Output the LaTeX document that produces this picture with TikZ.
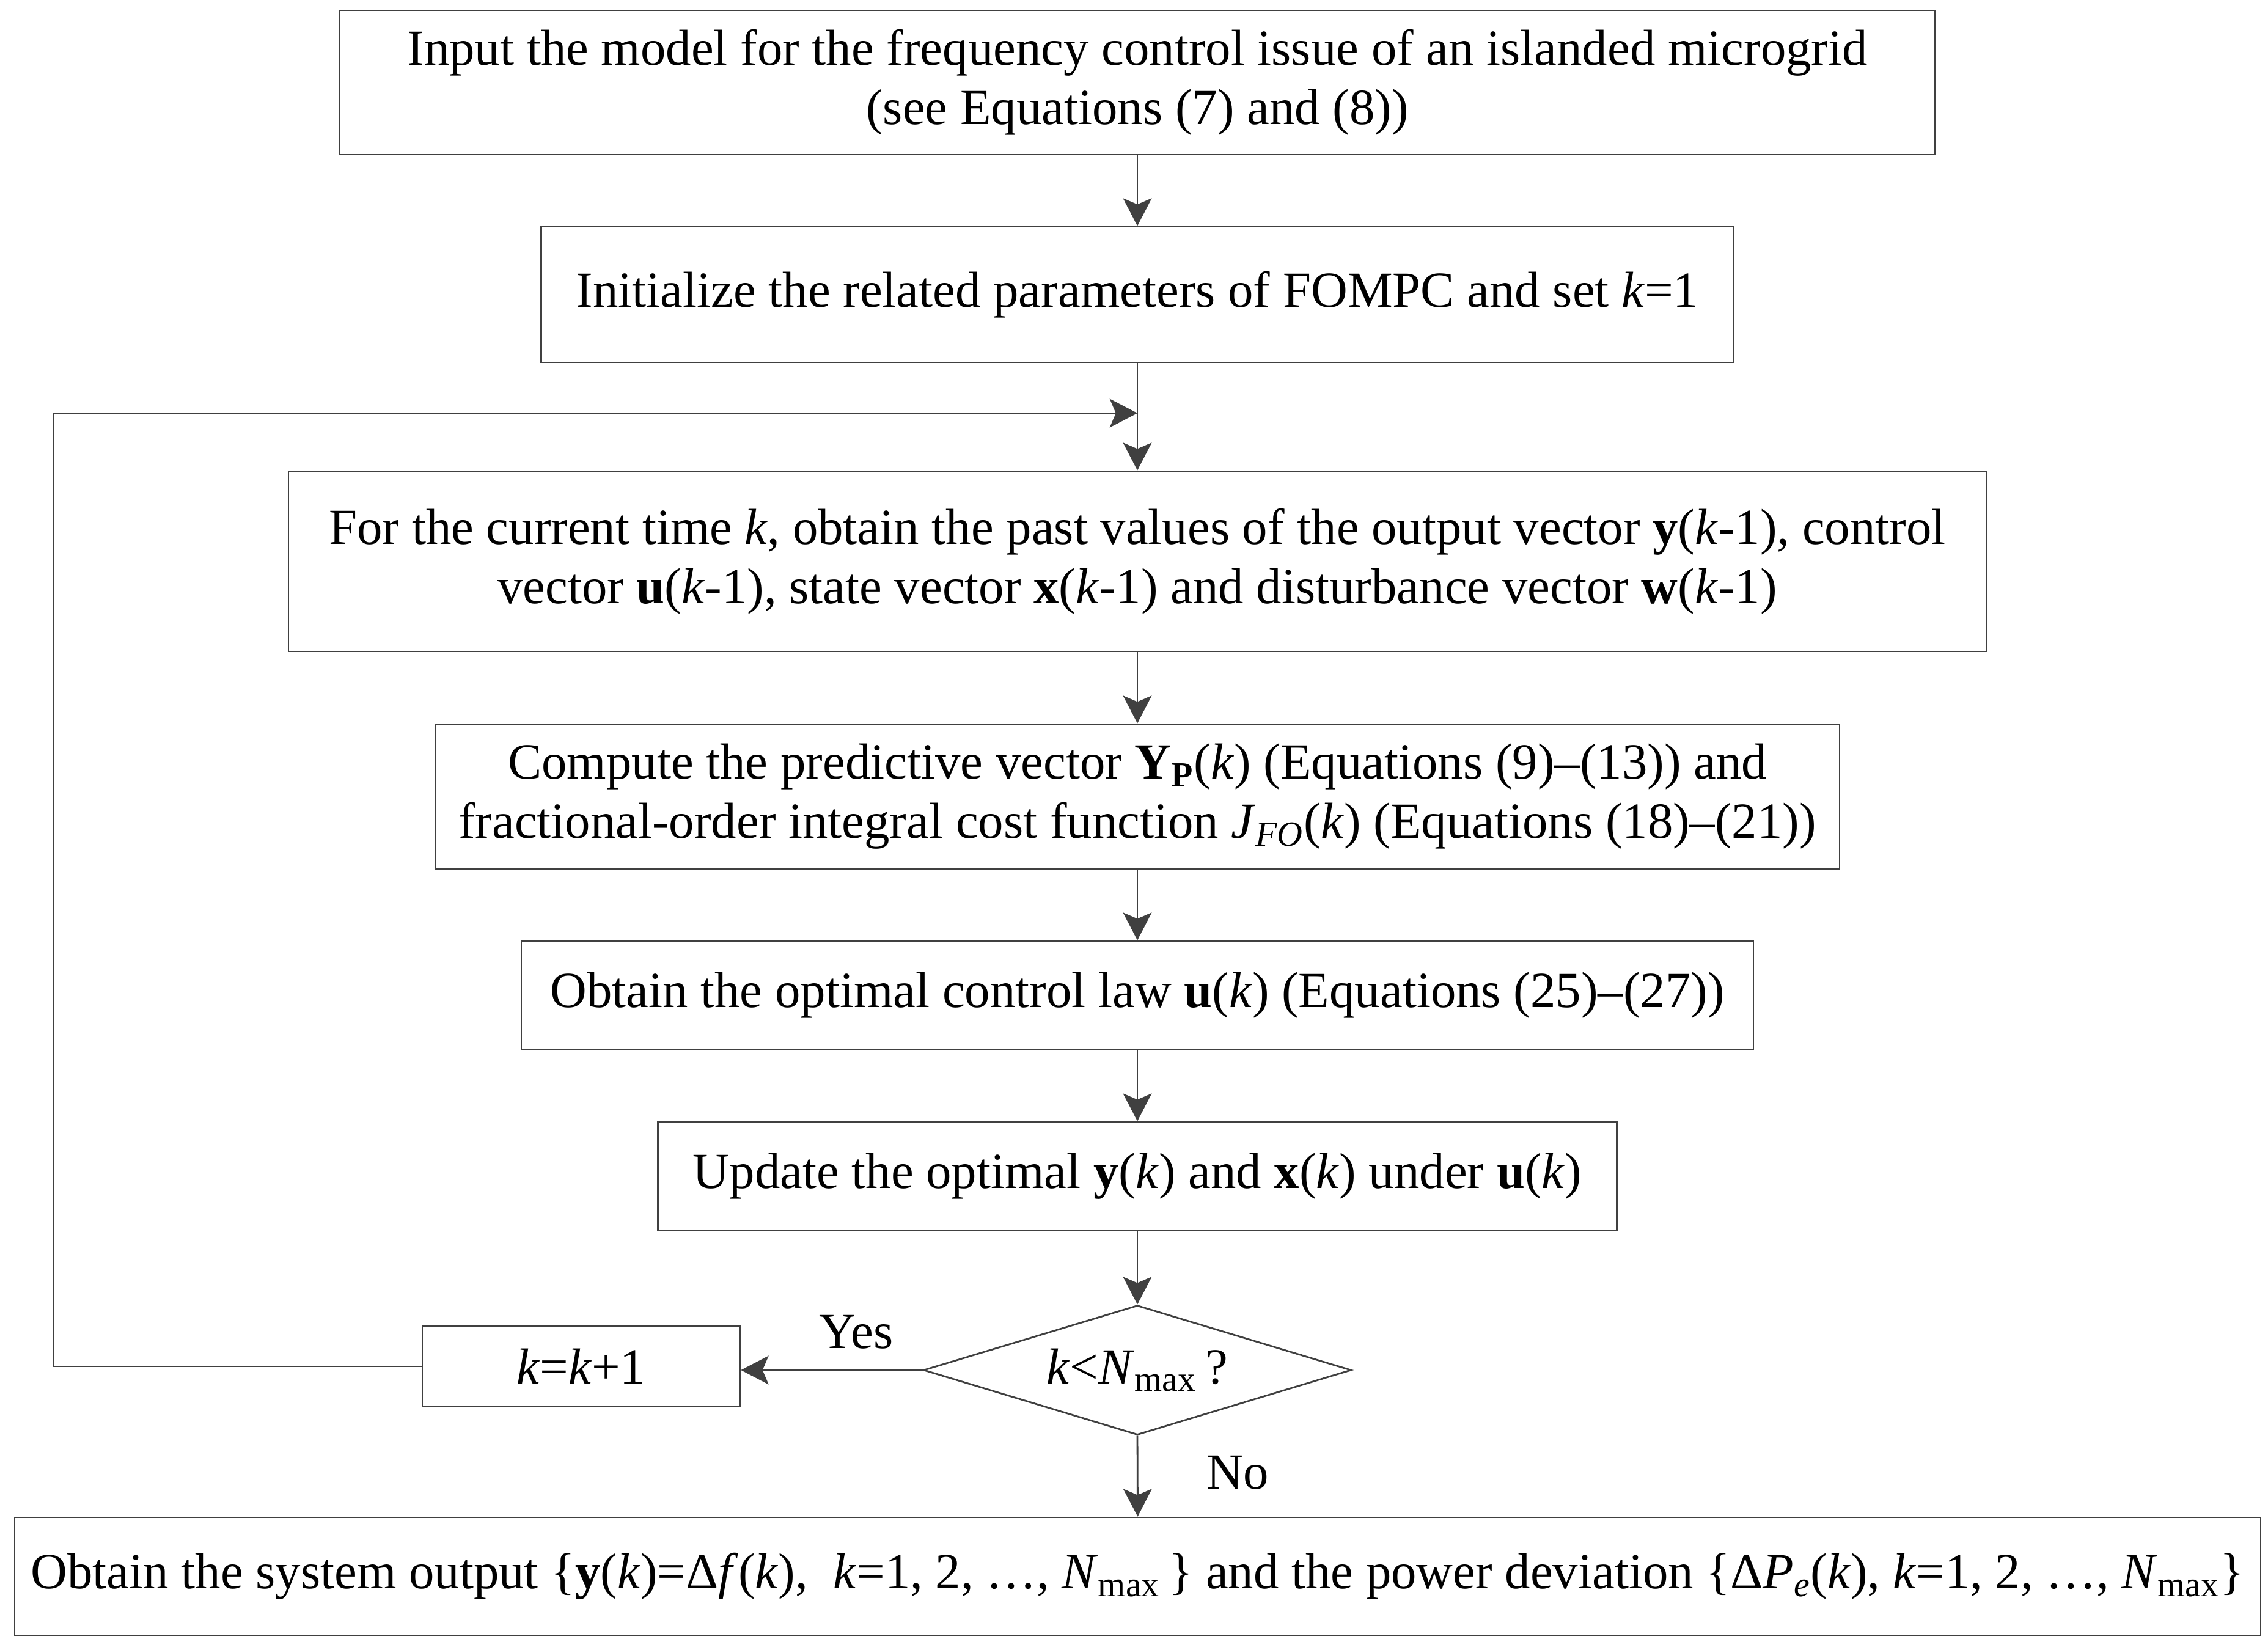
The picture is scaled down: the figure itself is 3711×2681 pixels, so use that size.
\documentclass[tikz,border=0pt]{standalone}
\usepackage{fontspec}
\setmainfont{Liberation Serif}
\usetikzlibrary{arrows.meta,shapes.geometric}
\definecolor{lc}{HTML}{404040}
\tikzset{
  box/.style={draw=lc, line width=0.7pt, rectangle, inner sep=0pt, align=center, text=black},
  dia/.style={draw=lc, line width=0.7pt, diamond, aspect=3.3, inner sep=0pt, align=center, text=black},
  conn/.style={draw=lc, line width=0.7pt, -{Stealth[length=11.3pt,width=11.7pt,inset=2.5pt]}},
  plain/.style={draw=lc, line width=0.7pt},
  lbl/.style={inner sep=0pt, text=black}
}
\begin{document}
\begin{tikzpicture}[x=0.25pt,y=-0.25pt,font=\fontsize{20.7}{24.3}\selectfont]
\useasboundingbox (0,0) rectangle (3711,2681);
\node[box, minimum width=652.75pt, minimum height=59pt] (b1) at (1861,135)
  {Input the model for the frequency control issue of an islanded microgrid\\(see Equations (7) and (8))};
\node[box, minimum width=487.75pt, minimum height=55.5pt] (b2) at (1861,482)
  {Initialize the related parameters of FOMPC and set \textit{k}=1};
\node[box, minimum width=694.5pt, minimum height=73.75pt] (b3) at (1861,918.5)
  {For the current time \textit{k}, obtain the past values of the output vector \textbf{y}(\textit{k}-1), control\\vector \textbf{u}(\textit{k}-1), state vector \textbf{x}(\textit{k}-1) and disturbance vector \textbf{w}(\textit{k}-1)};
\node[box, minimum width=574.5pt, minimum height=59.25pt] (b4) at (1861,1303.5)
  {Compute the predictive vector \textbf{Y}\textsubscript{\textbf{P}}(\textit{k}) (Equations (9)–(13)) and\\fractional-order integral cost function \textit{J}\textsubscript{\textit{FO}}(\textit{k}) (Equations (18)–(21))};
\node[box, minimum width=504pt, minimum height=44.5pt] (b5) at (1861,1629)
  {Obtain the optimal control law \textbf{u}(\textit{k}) (Equations (25)–(27))};
\node[box, minimum width=392.25pt, minimum height=44.25pt] (b6) at (1861,1924.5)
  {Update the optimal \textbf{y}(\textit{k}) and \textbf{x}(\textit{k}) under \textbf{u}(\textit{k})};
\node[dia, minimum width=175pt, minimum height=53pt] (d) at (1861,2242)
  {\textit{k}<\textit{N}\textsubscript{max}\,?};
\node[box, minimum width=130pt, minimum height=33pt] (kb) at (951,2236)
  {\textit{k}=\textit{k}+1};
\node[box, minimum width=918.75pt, minimum height=48.25pt] (b7) at (1861.5,2579.5)
  {Obtain the system output \{\textbf{y}(\textit{k})=Δ\textit{f}(\textit{k}),\ \ \textit{k}=1, 2, …, \textit{N}\textsubscript{max}\,\} and the power deviation \{Δ\textit{P}\textsubscript{\textit{e}}(\textit{k}), \textit{k}=1, 2, …, \textit{N}\textsubscript{max}\}};
\node[lbl] (yes) at (1401,2180) {Yes};
\node[lbl] (no) at (2025,2410) {No};
\coordinate (lc1) at (88,2236);
\coordinate (lc2) at (88,676);
\coordinate (j) at (1861,676);
\draw[conn] (b1.south) -- (b2.north);
\draw[conn] (b2.south) -- (b3.north);
\draw[conn] (b3.south) -- (b4.north);
\draw[conn] (b4.south) -- (b5.north);
\draw[conn] (b5.south) -- (b6.north);
\draw[conn] (b6.south) -- (d.north);
\draw[conn] (d.west) -- (d.west -| kb.east);
\draw[conn] (d.south) -- (b7.north);
\draw[conn] (kb.west) -- (lc1) -- (lc2) -- (j);
\end{tikzpicture}
\end{document}
